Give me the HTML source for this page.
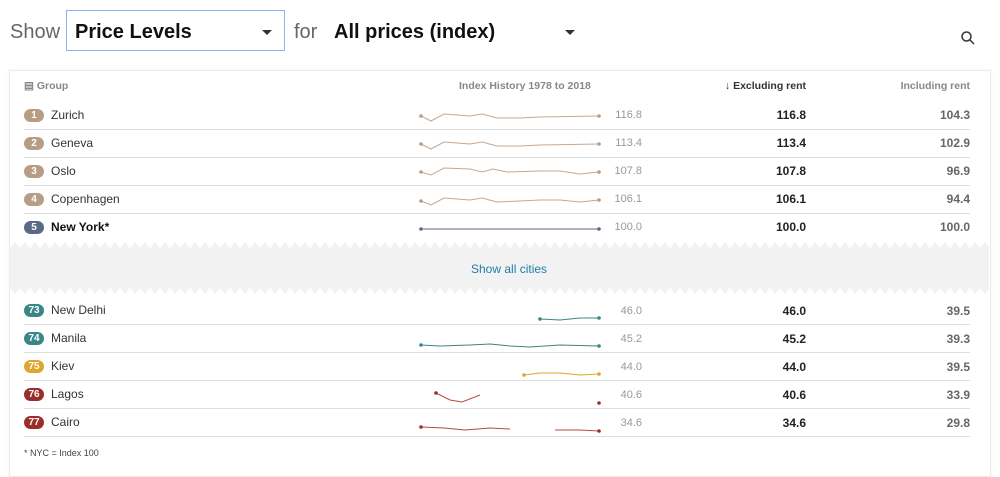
<!DOCTYPE html>
<html><head><meta charset="utf-8"><style>
body{margin:0;width:1000px;height:471px;background:#fff;font-family:"Liberation Sans",sans-serif;position:relative;overflow:hidden}
.a{position:absolute;white-space:nowrap}
.card{position:absolute;left:9px;top:70px;width:980px;height:405px;border:1px solid #ececec;box-shadow:0 0 3px rgba(0,0,0,.06);background:#fff}
.badge{position:absolute;left:24px;width:20px;height:13px;border-radius:6.5px;color:#fff;font-size:10px;font-weight:bold;text-align:center;line-height:13px}
.nm{left:51px;font-size:12px;color:#333}
.sv{font-size:11px;color:#999;text-align:right;width:60px;left:582px}
.ex{font-size:12px;font-weight:bold;color:#222;text-align:right;width:80px;left:726px}
.in{font-size:12px;font-weight:bold;color:#666;text-align:right;width:80px;left:890px}
.sep{position:absolute;left:24px;width:946px;height:1px;background:#ddd}
.hd{font-size:10.5px;font-weight:bold;color:#888;top:80px}
</style></head><body>
<div class="a" style="left:10px;top:21px;font-size:20px;color:#666">Show</div>
<div class="a" style="left:66px;top:10px;width:219px;height:41px;border:1px solid #8ab4f0;box-sizing:border-box"></div>
<div class="a" style="left:75px;top:21px;font-size:20px;font-weight:bold;color:#111">Price Levels</div>
<div class="a" style="left:262px;top:30px;width:0;height:0;border-left:5px solid transparent;border-right:5px solid transparent;border-top:5px solid #333"></div>
<div class="a" style="left:294px;top:21px;font-size:20px;color:#666">for</div>
<div class="a" style="left:334px;top:21px;font-size:20px;font-weight:bold;color:#111">All prices (index)</div>
<div class="a" style="left:565px;top:30px;width:0;height:0;border-left:5px solid transparent;border-right:5px solid transparent;border-top:5px solid #333"></div>
<svg class="a" style="left:960px;top:30px" width="16" height="16"><circle cx="6.5" cy="6.5" r="4.5" fill="none" stroke="#333" stroke-width="1.5"/><line x1="10" y1="10" x2="14" y2="14" stroke="#333" stroke-width="1.5"/></svg>
<div class="card"></div>
<div class="a hd" style="left:24px">▤ Group</div>
<div class="a hd" style="left:459px">Index History 1978 to 2018</div>
<div class="a hd" style="left:706px;width:100px;text-align:right;color:#333">↓ Excluding rent</div>
<div class="a hd" style="left:870px;width:100px;text-align:right">Including rent</div>

<div class="badge" style="top:109px;background:#b89d86">1</div><div class="a nm" style="top:108px">Zurich</div>
<div class="a sv" style="top:109px">116.8</div><div class="a ex" style="top:108px">116.8</div><div class="a in" style="top:108px">104.3</div>
<div class="sep" style="top:129px"></div>
<div class="badge" style="top:137px;background:#b89d86">2</div><div class="a nm" style="top:136px">Geneva</div>
<div class="a sv" style="top:137px">113.4</div><div class="a ex" style="top:136px">113.4</div><div class="a in" style="top:136px">102.9</div>
<div class="sep" style="top:157px"></div>
<div class="badge" style="top:165px;background:#b89d86">3</div><div class="a nm" style="top:164px">Oslo</div>
<div class="a sv" style="top:165px">107.8</div><div class="a ex" style="top:164px">107.8</div><div class="a in" style="top:164px">96.9</div>
<div class="sep" style="top:185px"></div>
<div class="badge" style="top:193px;background:#b89d86">4</div><div class="a nm" style="top:192px">Copenhagen</div>
<div class="a sv" style="top:193px">106.1</div><div class="a ex" style="top:192px">106.1</div><div class="a in" style="top:192px">94.4</div>
<div class="sep" style="top:213px"></div>
<div class="badge" style="top:221px;background:#5a6a85">5</div><div class="a nm" style="top:220px;font-weight:bold;color:#111">New York*</div>
<div class="a sv" style="top:221px">100.0</div><div class="a ex" style="top:220px">100.0</div><div class="a in" style="top:220px">100.0</div>

<svg class="a" style="left:10px;top:240px" width="979" height="56">
<defs><pattern id="z" width="10" height="8" patternUnits="userSpaceOnUse"><path d="M0 8 L5 2 L10 8 Z" fill="#f2f2f2"/></pattern>
<pattern id="z2" width="10" height="8" patternUnits="userSpaceOnUse"><path d="M0 0 L5 6 L10 0 Z" fill="#f2f2f2"/></pattern></defs>
<rect x="0" y="0" width="979" height="8" fill="url(#z)"/>
<rect x="0" y="8" width="979" height="40" fill="#f2f2f2"/>
<rect x="0" y="48" width="979" height="8" fill="url(#z2)"/>
</svg>
<div class="a" style="left:471px;top:262px;font-size:12px;color:#1f7ea8">Show all cities</div>

<div class="badge" style="top:304px;background:#3a8585">73</div><div class="a nm" style="top:303px">New Delhi</div>
<div class="a sv" style="top:305px">46.0</div><div class="a ex" style="top:304px">46.0</div><div class="a in" style="top:304px">39.5</div>
<div class="sep" style="top:324px"></div>
<div class="badge" style="top:332px;background:#3a8585">74</div><div class="a nm" style="top:331px">Manila</div>
<div class="a sv" style="top:333px">45.2</div><div class="a ex" style="top:332px">45.2</div><div class="a in" style="top:332px">39.3</div>
<div class="sep" style="top:352px"></div>
<div class="badge" style="top:360px;background:#dfa52e">75</div><div class="a nm" style="top:359px">Kiev</div>
<div class="a sv" style="top:361px">44.0</div><div class="a ex" style="top:360px">44.0</div><div class="a in" style="top:360px">39.5</div>
<div class="sep" style="top:380px"></div>
<div class="badge" style="top:388px;background:#9a2e2a">76</div><div class="a nm" style="top:387px">Lagos</div>
<div class="a sv" style="top:389px">40.6</div><div class="a ex" style="top:388px">40.6</div><div class="a in" style="top:388px">33.9</div>
<div class="sep" style="top:408px"></div>
<div class="badge" style="top:416px;background:#9a2e2a">77</div><div class="a nm" style="top:415px">Cairo</div>
<div class="a sv" style="top:417px">34.6</div><div class="a ex" style="top:416px">34.6</div><div class="a in" style="top:416px">29.8</div>
<div class="sep" style="top:436px"></div>
<div class="a" style="left:24px;top:448px;font-size:9px;color:#444">* NYC = Index 100</div>

<svg class="a" style="left:0;top:0" width="1000" height="471" fill="none" stroke-width="1">
<g stroke="#c4a891">
<polyline points="421,116 431,121 444,114 470,116 482,114 497,118 520,118 540,117 599,116"/>
<polyline points="421,144 431,149 444,142 470,144 482,142 497,146 520,146 540,145 599,144"/>
<polyline points="421,172 431,175 444,168 470,169 482,172 493,169 507,172 540,171 560,171 580,174 599,172"/>
<polyline points="421,201 431,205 444,198 470,200 482,198 497,202 520,201 540,200 560,200 580,202 599,200"/>
</g>
<g fill="#b89d86"><circle cx="421" cy="116" r="1.8"/><circle cx="599" cy="116" r="1.8"/><circle cx="421" cy="144" r="1.8"/><circle cx="599" cy="144" r="1.8"/><circle cx="421" cy="172" r="1.8"/><circle cx="599" cy="172" r="1.8"/><circle cx="421" cy="201" r="1.8"/><circle cx="599" cy="200" r="1.8"/></g>
<line x1="421" y1="229" x2="599" y2="229" stroke="#5a6a85"/><circle cx="421" cy="229" r="1.8" fill="#5a6a85"/><circle cx="599" cy="229" r="1.8" fill="#5a6a85"/>
<g stroke="#3a8585"><polyline points="540,319 560,320 580,318 599,318"/><polyline points="421,345 440,346 470,345 490,344 510,346 530,347 560,345 599,346"/></g>
<g fill="#3a8585"><circle cx="540" cy="319" r="1.8"/><circle cx="599" cy="318" r="1.8"/><circle cx="421" cy="345" r="1.8"/><circle cx="599" cy="346" r="1.8"/></g>
<polyline points="524,375 540,373 560,373 580,375 599,374" stroke="#dfa52e"/><circle cx="524" cy="375" r="1.8" fill="#dfa52e"/><circle cx="599" cy="374" r="1.8" fill="#dfa52e"/>
<g stroke="#b54a44"><polyline points="436,393 450,400 462,402 480,395"/><polyline points="421,427 444,428 465,430 490,428 510,429"/><polyline points="555,430 580,430 599,431"/></g>
<g fill="#9a2e2a"><circle cx="436" cy="393" r="1.8"/><circle cx="599" cy="403" r="1.8"/><circle cx="421" cy="427" r="1.8"/><circle cx="599" cy="431" r="1.8"/></g>
</svg>
</body></html>
